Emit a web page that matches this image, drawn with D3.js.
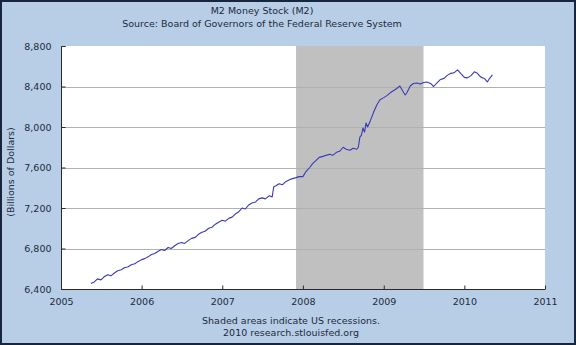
<!DOCTYPE html>
<html>
<head>
<meta charset="utf-8">
<script src="https://cdn.jsdelivr.net/npm/d3@7"></script>
<style>
  html, body { margin: 0; padding: 0; background: #b8cee6; }
  svg { display: block; }
  text { font-family: "DejaVu Sans", Verdana, sans-serif; fill: #1c2a3e; }
</style>
</head>
<body>
<svg id="chart" width="576" height="345"></svg>
<script>
// M2 money stock, billions of dollars (weekly-ish readings)
const dates = [
  "2005-05-16","2005-06-01","2005-06-15","2005-07-01","2005-07-15","2005-08-01","2005-08-15",
  "2005-09-01","2005-09-15","2005-10-01","2005-10-15","2005-11-01","2005-11-15","2005-12-01",
  "2005-12-15","2006-01-01","2006-01-15","2006-02-01","2006-02-15","2006-03-01","2006-03-15",
  "2006-04-01","2006-04-15","2006-05-01","2006-05-15","2006-06-01","2006-06-15","2006-07-01",
  "2006-07-15","2006-08-01","2006-08-15","2006-09-01","2006-09-15","2006-10-01","2006-10-15",
  "2006-11-01","2006-11-15","2006-12-01","2006-12-15","2007-01-01","2007-01-15","2007-02-01",
  "2007-02-15","2007-03-01","2007-03-15","2007-04-01","2007-04-15","2007-05-01","2007-05-15",
  "2007-06-01","2007-06-15","2007-07-01","2007-07-15","2007-08-01","2007-08-15","2007-08-22",
  "2007-09-01","2007-09-15","2007-10-01","2007-10-15","2007-11-01","2007-11-15","2007-12-01",
  "2007-12-15","2008-01-01","2008-01-15","2008-02-01","2008-02-15","2008-03-01","2008-03-15",
  "2008-04-01","2008-04-15","2008-05-01","2008-05-15","2008-06-01","2008-06-15","2008-07-01",
  "2008-07-15","2008-08-01","2008-08-15","2008-09-01","2008-09-08","2008-09-15","2008-09-22",
  "2008-09-29","2008-10-06","2008-10-13","2008-10-20","2008-11-01","2008-11-15","2008-12-01",
  "2008-12-15","2009-01-01","2009-01-15","2009-02-01","2009-02-15","2009-03-01","2009-03-15",
  "2009-04-01","2009-04-08","2009-04-15","2009-05-01","2009-05-15","2009-06-01","2009-06-15",
  "2009-07-01","2009-07-15","2009-08-01","2009-08-15","2009-09-01","2009-09-15","2009-10-01",
  "2009-10-15","2009-11-01","2009-11-15","2009-12-01","2009-12-15","2010-01-01","2010-01-15",
  "2010-02-01","2010-02-15","2010-03-01","2010-03-15","2010-04-01","2010-04-15","2010-04-22",
  "2010-05-08"
];
const m2 = [
  6455, 6470, 6500, 6490, 6520, 6540, 6530,
  6560, 6580, 6590, 6610, 6620, 6640, 6650,
  6670, 6690, 6700, 6720, 6740, 6750, 6770,
  6790, 6780, 6810, 6800, 6830, 6850, 6860,
  6850, 6880, 6900, 6910, 6940, 6960, 6970,
  7000, 7010, 7040, 7060, 7080, 7070, 7100,
  7110, 7140, 7160, 7200, 7190, 7230, 7250,
  7260, 7290, 7300, 7290, 7320, 7310, 7410,
  7420, 7440, 7430, 7460, 7480, 7490, 7500,
  7510, 7510, 7560, 7600, 7640, 7670, 7700,
  7710, 7720, 7730, 7720, 7750, 7760, 7800,
  7780, 7770, 7790, 7780, 7800, 7900, 7920,
  7990, 7950, 8040, 8000, 8060, 8140, 8220,
  8270, 8290, 8310, 8340, 8360, 8380, 8405,
  8340, 8316, 8336, 8405, 8430, 8435, 8425,
  8440, 8444, 8430, 8400, 8440, 8470, 8480,
  8510, 8530, 8535, 8565, 8530, 8490, 8485,
  8510, 8545, 8530, 8495, 8480, 8445, 8470,
  8515
];
const recessions = [["2007-12-01", "2009-06-30"]];
const yTicks = [6400, 6800, 7200, 7600, 8000, 8400, 8800];
const xTickYears = [2005, 2006, 2007, 2008, 2009, 2010, 2011];
const titleLines = ["M2 Money Stock (M2)", "Source: Board of Governors of the Federal Reserve System"];
const footerLines = ["Shaded areas indicate US recessions.", "2010 research.stlouisfed.org"];
const yLabel = "(Billions of Dollars)";

const W = 576, H = 345;
const plot = { left: 61, top: 46, right: 545, bottom: 289 };
const parse = d3.timeParse("%Y-%m-%d");
const series = dates.map((d, i) => ({ date: parse(d), value: m2[i] }));

const svg = d3.select("#chart");

// outer frame
svg.append("rect").attr("x", 1).attr("y", 1).attr("width", W - 2).attr("height", H - 2)
  .attr("fill", "#b8cee6").attr("stroke", "#17263c").attr("stroke-width", 2);

const x = d3.scaleTime()
  .domain([new Date(2005, 0, 1), new Date(2011, 0, 1)])
  .range([plot.left, plot.right]);
const y = d3.scaleLinear()
  .domain([6400, 8800])
  .range([plot.bottom, plot.top]);

// plot background
svg.append("rect")
  .attr("x", plot.left).attr("y", plot.top)
  .attr("width", plot.right - plot.left).attr("height", plot.bottom - plot.top)
  .attr("fill", "#ffffff");

// recession shading
svg.append("g").selectAll("rect").data(recessions).join("rect")
  .attr("x", d => x(parse(d[0])))
  .attr("y", plot.top)
  .attr("width", d => x(parse(d[1])) - x(parse(d[0])))
  .attr("height", plot.bottom - plot.top)
  .attr("fill", "#c0c0c0");

// horizontal gridlines
svg.append("g").selectAll("line").data(yTicks.slice(1, -1)).join("line")
  .attr("x1", plot.left).attr("x2", plot.right)
  .attr("y1", d => Math.round(y(d)) + 0.5).attr("y2", d => Math.round(y(d)) + 0.5)
  .attr("stroke", "#b0b0b0").attr("stroke-width", 1);

// y axis
const yAxis = d3.axisLeft(y).tickValues(yTicks).tickFormat(d3.format(",")).tickSize(-4).tickPadding(10);
const gy = svg.append("g").attr("transform", `translate(${plot.left + 0.5},0)`).call(yAxis);
gy.select(".domain").attr("stroke", "#2a2a2a").attr("d", `M4,${plot.top + 0.5}H0V${plot.bottom}`);
gy.selectAll(".tick line").attr("stroke", "#2a2a2a");
gy.selectAll(".tick text").style("font-size", "9.5px").attr("fill", "#1c2a3e").style("font-family", "DejaVu Sans, sans-serif");

// x axis
const xAxis = d3.axisBottom(x)
  .tickValues(xTickYears.map(yr => new Date(yr, 0, 1)))
  .tickFormat(d3.timeFormat("%Y")).tickSize(-4).tickPadding(9);
const gx = svg.append("g").attr("transform", `translate(0,${plot.bottom + 0.5})`).call(xAxis);
gx.select(".domain").attr("stroke", "#2a2a2a").attr("d", `M${plot.left},0H${plot.right}`);
gx.selectAll(".tick line").attr("stroke", "#2a2a2a");
gx.selectAll(".tick text").style("font-size", "9.5px").attr("fill", "#1c2a3e").style("font-family", "DejaVu Sans, sans-serif");

// series line
const line = d3.line().x(d => x(d.date)).y(d => y(d.value));
svg.append("path").datum(series)
  .attr("d", line)
  .attr("fill", "none")
  .attr("stroke", "#3a3ab8")
  .attr("stroke-width", 1.1)
  .attr("stroke-linejoin", "round");

// titles
svg.append("g").selectAll("text").data(titleLines).join("text")
  .attr("x", 262).attr("y", (d, i) => 14 + i * 12.5)
  .attr("text-anchor", "middle").style("font-size", "9.5px")
  .text(d => d);

// footer
svg.append("g").selectAll("text").data(footerLines).join("text")
  .attr("x", 291).attr("y", (d, i) => 324 + i * 12)
  .attr("text-anchor", "middle").style("font-size", "9.5px")
  .text(d => d);

// y-axis title
svg.append("text")
  .attr("transform", `translate(14,${172}) rotate(-90)`)
  .attr("text-anchor", "middle").style("font-size", "9.5px")
  .text(yLabel);
</script>
</body>
</html>
